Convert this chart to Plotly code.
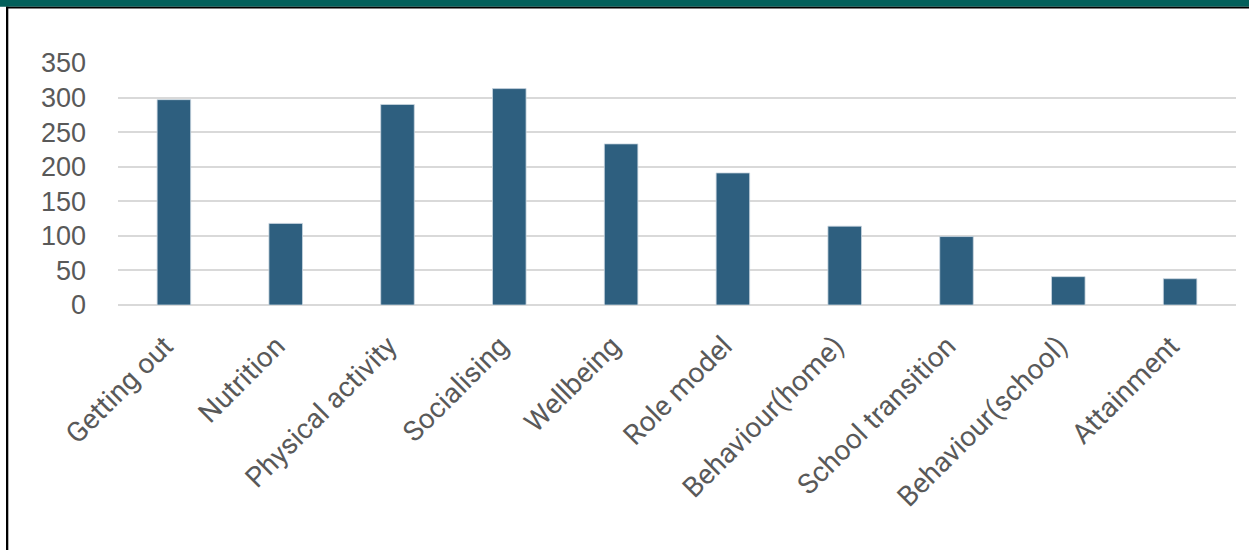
import plotly.graph_objects as go

categories = ["Getting out", "Nutrition", "Physical activity", "Socialising", "Wellbeing",
              "Role model", "Behaviour(home)", "School transition", "Behaviour(school)", "Attainment"]
values = [297, 118, 290, 313, 233, 191, 114, 99, 41, 38]
y_ticks = [0, 50, 100, 150, 200, 250, 300, 350]

W, H = 1249, 550
L, R, T, B = 118, 13, 63, 245

fig = go.Figure(go.Bar(
    x=categories, y=values,
    marker=dict(color="#2E5F7F", line=dict(color="#C9D6E0", width=0.8)),
    width=0.3,
))

pw = W - L - R
ph = H - T - B
def px(x):
    return (x - L) / pw
def py(y):
    return (H - B - y) / ph

shapes = [
    # teal top band
    dict(type="rect", xref="paper", yref="paper", x0=px(0), x1=px(W), y0=py(0), y1=py(6.7),
         fillcolor="#03605B", line=dict(width=0), layer="above"),
    # black line under band
    dict(type="rect", xref="paper", yref="paper", x0=px(6), x1=px(W), y0=py(6.7), y1=py(8.5),
         fillcolor="#000000", line=dict(width=0), layer="above"),
    # left black border
    dict(type="rect", xref="paper", yref="paper", x0=px(6), x1=px(8.3), y0=py(6.7), y1=py(H),
         fillcolor="#000000", line=dict(width=0), layer="above"),
]

fig.update_layout(
    width=W, height=H, autosize=False,
    margin=dict(l=L, r=R, t=T, b=B, pad=0),
    paper_bgcolor="white", plot_bgcolor="white",
    showlegend=False,
    shapes=shapes,
    xaxis=dict(
        tickangle=-45, showgrid=False, showline=False, zeroline=False,
        tickfont=dict(family="Roboto", size=28, color="#595959"),
        ticks="", ticklabelstandoff=18, ticklabelshift=-9,
    ),
    yaxis=dict(
        range=[0, 350], tickvals=y_ticks, showgrid=True, gridcolor="#D9D9D9", gridwidth=2,
        zeroline=True, zerolinecolor="#D9D9D9", zerolinewidth=2, showline=False,
        tickfont=dict(family="Liberation Sans", size=27, color="#595959"),
        ticks="", ticklabelstandoff=31,
    ),
    bargap=0.7,
)

fig.write_html("out.html", config={"displayModeBar": False},
               post_script="document.body.style.margin='0';document.body.style.overflow='hidden';")
